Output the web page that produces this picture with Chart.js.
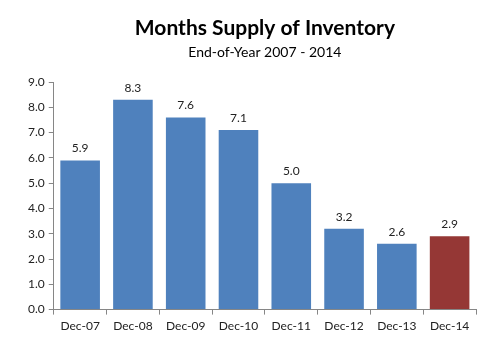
<!DOCTYPE html>
<html>
<head>
<meta charset="utf-8">
<script src="https://cdn.jsdelivr.net/npm/chart.js@4"></script>
<style>
  html, body { margin: 0; padding: 0; background: #fff; }
  #wrap { width: 500px; height: 341px; }
</style>
</head>
<body>
<div id="wrap"><canvas id="supplyChart"></canvas></div>
<script>
var labels = ["Dec-07", "Dec-08", "Dec-09", "Dec-10", "Dec-11", "Dec-12", "Dec-13", "Dec-14"];
var supply = [5.9, 8.3, 7.6, 7.1, 5.0, 3.2, 2.6, 2.9];
var barColors = ["#4F81BD", "#4F81BD", "#4F81BD", "#4F81BD", "#4F81BD", "#4F81BD", "#4F81BD", "#953735"];
var yTicks = [0, 1, 2, 3, 4, 5, 6, 7, 8, 9];

var fontName = "Lato, 'Open Sans', sans-serif";

// draws the value above each bar
var valueLabels = {
    id: "valueLabels",
    afterDatasetsDraw: function(chart) {
        var ctx = chart.ctx;
        var meta = chart.getDatasetMeta(0);
        ctx.save();
        ctx.font = "12px " + fontName;
        ctx.fillStyle = "#222";
        ctx.textAlign = "center";
        ctx.textBaseline = "bottom";
        meta.data.forEach(function(bar, i) {
            ctx.fillText(supply[i].toFixed(1), bar.x, bar.y - 6);
        });
        ctx.restore();
    }
};

var ctx = document.getElementById("supplyChart").getContext("2d");
var chart = new Chart(ctx, {
    type: "bar",
    data: {
        labels: labels,
        datasets: [{
            data: supply,
            backgroundColor: barColors,
            borderWidth: 0,
            barPercentage: 0.75,
            categoryPercentage: 1.0
        }]
    },
    options: {
        responsive: true,
        maintainAspectRatio: false,
        animation: false,
        layout: { padding: { left: 24, right: 24, top: 4, bottom: 4 } },
        plugins: {
            legend: { display: false },
            tooltip: { enabled: false },
            title: {
                display: true,
                text: "Months Supply of Inventory",
                fullSize: false,
                color: "#000",
                font: { family: fontName, size: 21, weight: "bold" },
                padding: { top: 12, bottom: 3 }
            },
            subtitle: {
                display: true,
                text: "End-of-Year 2007 - 2014",
                fullSize: false,
                color: "#000",
                font: { family: fontName, size: 14 },
                padding: { top: 0, bottom: 21 }
            }
        },
        scales: {
            x: {
                grid: { display: true, drawOnChartArea: false, drawTicks: true, tickLength: 5, color: "#868686", offset: true },
                border: { display: true, color: "#868686" },
                ticks: { color: "#222", font: { family: fontName, size: 12 }, padding: 4, maxRotation: 0 }
            },
            y: {
                min: 0,
                max: 9,
                afterBuildTicks: function(axis) {
                    axis.ticks = yTicks.map(function(v) { return { value: v }; });
                },
                grid: { display: true, drawOnChartArea: false, drawTicks: true, tickLength: 5, color: "#868686" },
                border: { display: true, color: "#868686" },
                ticks: {
                    color: "#222",
                    font: { family: fontName, size: 12 },
                    padding: 4,
                    callback: function(v) { return Number(v).toFixed(1); }
                }
            }
        }
    },
    plugins: [valueLabels]
});
</script>
</body>
</html>
